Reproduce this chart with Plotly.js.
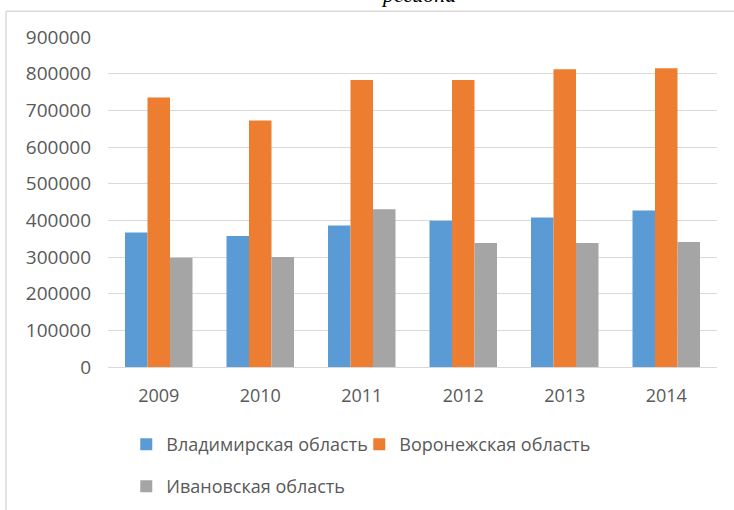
<!DOCTYPE html>
<html>
<head>
<meta charset="utf-8">
<script src="https://cdn.plot.ly/plotly-3.0.1.min.js"></script>
<style>html,body{margin:0;padding:0;background:#fff;}#chart{width:734px;height:510px;}</style>
</head>
<body>
<div id="chart"></div>
<script>
const years = ['2009', '2010', '2011', '2012', '2013', '2014'];
const vladimir = [367000, 357000, 386000, 399000, 408000, 427000];
const voronezh = [735000, 672000, 783000, 783000, 812000, 815000];
const ivanovo = [298000, 300000, 430000, 338000, 338000, 341000];
const seriesNames = ['Владимирская область', 'Воронежская область', 'Ивановская область'];
const yTicks = [0, 100000, 200000, 300000, 400000, 500000, 600000, 700000, 800000, 900000];
const titleText = 'региона';

const textFont = 'Open Sans, Noto Sans, sans-serif';
const gray = '#595959';
const lineCol = '#D9D9D9';

const traces = [
  {type: 'bar', name: seriesNames[0], x: years, y: vladimir, marker: {color: '#5B9BD5'}, legend: 'legend'},
  {type: 'bar', name: seriesNames[1], x: years, y: voronezh, marker: {color: '#ED7D31'}, legend: 'legend'},
  {type: 'bar', name: seriesNames[2], x: years, y: ivanovo, marker: {color: '#A5A5A5'}, legend: 'legend2'}
];

const layout = {
  width: 734, height: 510,
  margin: {l: 108, r: 17, t: 37, b: 143, autoexpand: false},
  paper_bgcolor: '#fff', plot_bgcolor: '#fff',
  barmode: 'group', bargap: 0.335, bargroupgap: 0,
  showlegend: true,
  hovermode: false,
  xaxis: {
    type: 'category', showgrid: false, ticks: '', showline: false, zeroline: false,
    tickfont: {family: textFont, size: 18, color: gray},
    ticklabelstandoff: 16
  },
  yaxis: {
    range: [0, 900000], tickvals: yTicks, ticktext: yTicks.map(String),
    showgrid: true, gridcolor: lineCol, gridwidth: 1,
    zeroline: true, zerolinecolor: lineCol, zerolinewidth: 1,
    showline: false, ticks: '',
    tickfont: {family: textFont, size: 19, color: gray},
    ticklabelstandoff: 16
  },
  legend: {
    orientation: 'h', x: 0.03, xanchor: 'left', y: -0.235, yanchor: 'middle',
    font: {family: textFont, size: 18, color: gray},
    itemclick: false, itemdoubleclick: false, entrywidth: 188, bgcolor: 'rgba(0,0,0,0)'
  },
  legend2: {
    orientation: 'h', x: 0.03, xanchor: 'left', y: -0.362, yanchor: 'middle',
    font: {family: textFont, size: 18, color: gray},
    itemclick: false, itemdoubleclick: false, bgcolor: 'rgba(0,0,0,0)'
  },
  annotations: [{
    text: titleText, xref: 'paper', yref: 'paper', x: 0.51, y: 1.085,
    xanchor: 'center', yanchor: 'bottom', showarrow: false,
    font: {family: 'Liberation Serif, Times New Roman, serif', size: 22, color: '#000', style: 'italic'}
  }],
  shapes: [
    {type: 'line', xref: 'paper', yref: 'paper', x0: -0.1675, x1: 1.03, y0: 1.078, y1: 1.078, line: {color: lineCol, width: 1.5}},
    {type: 'line', xref: 'paper', yref: 'paper', x0: -0.1675, x1: -0.1675, y0: 1.078, y1: -0.44, line: {color: lineCol, width: 1.5}}
  ]
};

Plotly.newPlot('chart', traces, layout, {displayModeBar: false, staticPlot: true});
</script>
</body>
</html>
